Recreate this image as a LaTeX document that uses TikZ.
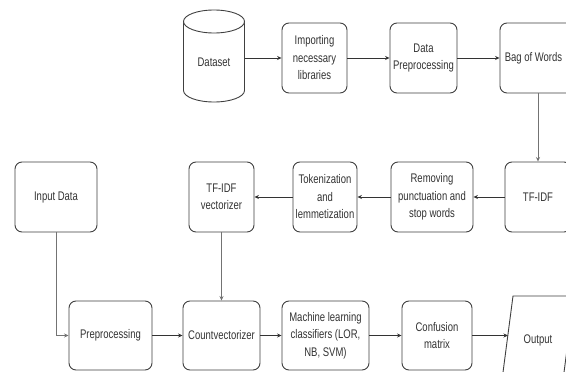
\documentclass[tikz,border=0pt]{standalone}
\usepackage{fontspec}
\setmainfont{Liberation Sans}[FakeStretch=0.76]
\usetikzlibrary{arrows.meta}
\begin{document}
\begin{tikzpicture}[x=1pt,y=-1pt,
  box/.style={draw=black!75, line width=0.9pt, rounded corners=7pt, fill=white,
    align=center, text=black!80, font=\fontsize{12.5}{17.5}\selectfont, inner sep=0pt},
  txt/.style={align=center, text=black!80, font=\fontsize{12.5}{17.5}\selectfont, inner sep=0pt},
  shp/.style={draw=black!75, line width=0.9pt, fill=white},
  conn/.style={draw=black!80, line width=0.9pt, -{Stealth[length=4.5pt,width=4pt]}},
  vconn/.style={conn, draw=black!55}]
\useasboundingbox (0,0) rectangle (566,372);
\clip (0,0) rectangle (566,372);
\fill[white] (0,0) rectangle (566,372);

% Row 1
\draw[shp] (183.5,21.5) -- (183.5,90.5) arc[start angle=180, end angle=0, x radius=30.5, y radius=11.5] -- (244.5,21.5);
\draw[shp] (214,21.5) ellipse[x radius=30.5, y radius=11.5];
\node[inner sep=0pt, minimum width=61pt, minimum height=92pt] (ds) at (214,56) {};
\node[txt] (dstxt) at (214,62) {Dataset};
\node[box, minimum width=65pt, minimum height=70pt] (imp) at (314.5,58) {Importing\\necessary\\libraries};
\node[box, minimum width=67pt, minimum height=70pt] (dpp) at (423.5,58) {Data\\Preprocessing};
\node[box, minimum width=76pt, minimum height=70pt] (bow) at (538,58) {};
\node[txt] (bowtxt) at (533.5,58) {Bag of Words};

% Row 2
\node[box, minimum width=82pt, minimum height=70pt] (inp) at (56,197) {Input Data};
\node[box, minimum width=65pt, minimum height=70pt] (tfv) at (221.5,197) {TF-IDF\\vectorizer};
\node[box, minimum width=64pt, minimum height=70pt] (tok) at (325,197) {Tokenization\\and\\lemmetization};
\node[box, minimum width=82pt, minimum height=70pt] (rem) at (432,197) {Removing\\punctuation and\\stop words};
\node[box, minimum width=66pt, minimum height=70pt] (tfidf) at (538,197) {TF-IDF};

% Row 3
\node[box, minimum width=83pt, minimum height=69pt] (pre) at (110.5,335.5) {Preprocessing};
\node[box, minimum width=77pt, minimum height=69pt] (cv) at (221.5,335.5) {Countvectorizer};
\node[box, minimum width=87pt, minimum height=69pt] (ml) at (325.5,335.5) {Machine learning\\classifiers (LOR,\\NB, SVM)};
\node[box, minimum width=70pt, minimum height=69pt] (cm) at (437,335.5) {Confusion\\matrix};
\draw[shp] (513,296) -- (574,296) -- (563,380) -- (502,380) -- cycle;
\node[txt] (out) at (538,340) {Output};
\coordinate (outin) at (508,335.5);

% Connectors
\draw[conn] (ds.east |- imp.west) -- (imp.west);
\draw[conn] (imp.east) -- (dpp.west);
\draw[conn] (dpp.east) -- (bow.west);
\draw[vconn] (bow.south) -- (tfidf.north);
\draw[conn] (tfidf.west) -- (rem.east);
\draw[conn] (rem.west) -- (tok.east);
\draw[conn] (tok.west) -- (tfv.east);
\draw[vconn] (tfv.south) -- (cv.north);
\draw[vconn] (inp.south) |- (pre.west);
\draw[conn] (pre.east) -- (cv.west);
\draw[conn] (cv.east) -- (ml.west);
\draw[conn] (ml.east) -- (cm.west);
\draw[conn] (cm.east) -- (outin);
\end{tikzpicture}
\end{document}
